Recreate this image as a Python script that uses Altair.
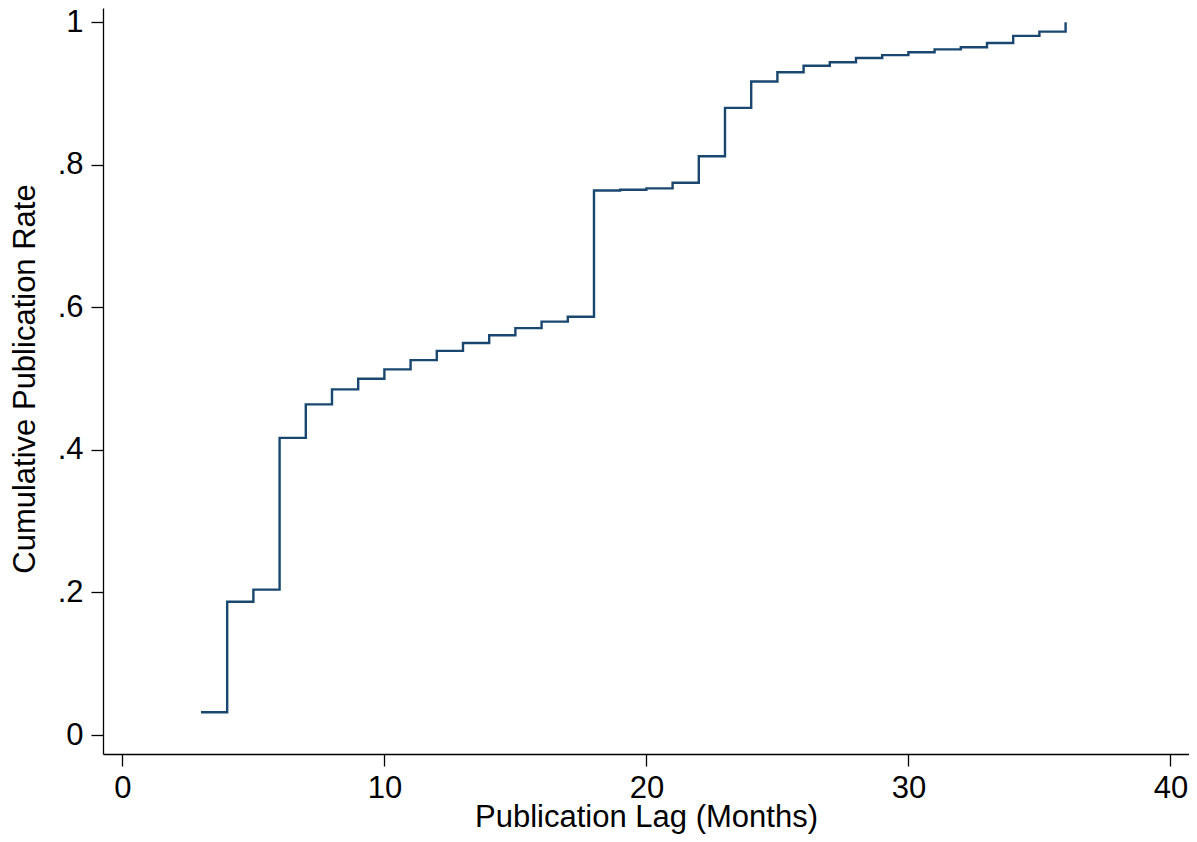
import altair as alt
import pandas as pd

lag_months = list(range(3, 37))
cum_rate = [0.032, 0.187, 0.204, 0.417, 0.464, 0.485, 0.500, 0.513, 0.526, 0.539,
            0.550, 0.561, 0.571, 0.580, 0.587, 0.764, 0.765, 0.767, 0.775, 0.812,
            0.880, 0.917, 0.930, 0.939, 0.944, 0.950, 0.954, 0.958, 0.962, 0.965,
            0.971, 0.981, 0.987, 1.000]

df = pd.DataFrame({"lag": lag_months, "rate": cum_rate})

FONT = "Liberation Sans"
FS_LABEL = 31
FS_TITLE = 31
W, H = 1086, 746
PL, PT = 95, 0

line = alt.Chart(df).mark_line(
    interpolate="step-after", color="#1a476f", strokeWidth=2.4
).encode(
    x=alt.X("lag:Q",
            scale=alt.Scale(domain=[-0.74, 40.71], nice=False, zero=False),
            axis=alt.Axis(values=[0, 10, 20, 30, 40], title="Publication Lag (Months)",
                          grid=False, domainColor="black", domainWidth=1.3,
                          tickColor="black", tickWidth=1.3, tickSize=12,
                          labelFont=FONT, labelFontSize=FS_LABEL, labelColor="black",
                          labelPadding=7, labelFlush=False,
                          titleFont=FONT, titleFontSize=FS_TITLE, titleFontWeight="normal",
                          titleColor="black", titleBaseline="alphabetic",
                          titleY=72.5)),
    y=alt.Y("rate:Q",
            scale=alt.Scale(domain=[-0.0266, 1.0201], nice=False, zero=False),
            axis=alt.Axis(values=[0, 0.2, 0.4, 0.6, 0.8, 1.0],
                          labelExpr="datum.value == 0 ? '0' : (datum.value == 1 ? '1' : '.' + round(datum.value * 10))",
                          title="Cumulative Publication Rate",
                          grid=False, domainColor="black", domainWidth=1.3,
                          tickColor="black", tickWidth=1.3, tickSize=12,
                          labelFont=FONT, labelFontSize=FS_LABEL, labelColor="black",
                          labelPadding=8, labelFlush=False,
                          titleFont=FONT, titleFontSize=FS_TITLE, titleFontWeight="normal",
                          titleColor="black", titleBaseline="alphabetic",
                          titleX=34.3 - 103, titleY=370.5)),
)

chart = line.properties(
    width=W, height=H,
    background="white",
    autosize=alt.AutoSizeParams(type="none"),
    padding={"left": PL, "top": PT, "right": 0, "bottom": 80},
).configure_view(stroke=None)

chart.save("out.html", embed_options={"renderer": "svg", "actions": False})
